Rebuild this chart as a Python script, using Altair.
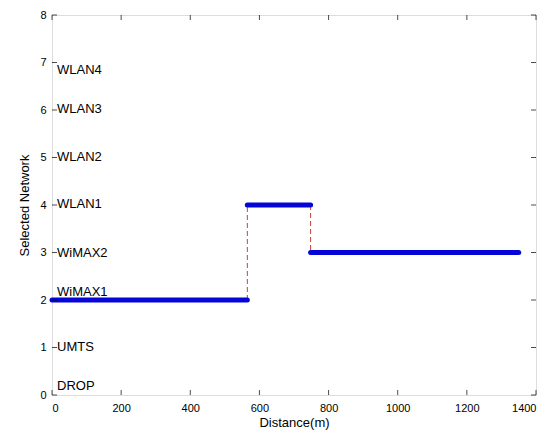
import altair as alt
import pandas as pd

# ---- data ----
seg_id = [1, 1, 2, 2, 3, 3]
seg_x = [0, 565, 565, 748, 748, 1350]
seg_y = [2, 2, 4, 4, 3, 3]

jump_id = [1, 1, 2, 2]
jump_x = [565, 565, 748, 748]
jump_y = [2, 4, 4, 3]

net_names = ["DROP", "UMTS", "WiMAX1", "WiMAX2", "WLAN1", "WLAN2", "WLAN3", "WLAN4"]
net_y = [0.2, 1.02, 2.17, 3.0, 4.02, 5.02, 6.02, 6.85]

x_ticks = [0, 200, 400, 600, 800, 1000, 1200, 1400]
y_ticks = [0, 1, 2, 3, 4, 5, 6, 7, 8]

FONT = "Liberation Sans"

seg_df = pd.DataFrame({"seg": seg_id, "x": seg_x, "y": seg_y})
jump_df = pd.DataFrame({"seg": jump_id, "x": jump_x, "y": jump_y})
lab_df = pd.DataFrame({"name": net_names, "x": [0] * len(net_names), "y": net_y})
xt_df = pd.DataFrame({"t": x_ticks})
yt_df = pd.DataFrame({"t": y_ticks})

xscale = alt.Scale(domain=[0, 1400], nice=False, zero=False)
yscale = alt.Scale(domain=[0, 8], nice=False, zero=False)

xaxis = alt.Axis(values=x_ticks, format="d", ticks=False, domain=False, grid=False,
                 labelFont=FONT, labelFontSize=11, labelColor="black",
                 labelPadding=7, title="Distance(m)", titleFont=FONT,
                 titleFontSize=13, titleFontWeight="normal", titleColor="black",
                 titlePadding=3)
yaxis = alt.Axis(values=y_ticks, format="d", ticks=False, domain=False, grid=False,
                 labelFont=FONT, labelFontSize=11, labelColor="black",
                 labelPadding=6, title="Selected Network", titleFont=FONT,
                 titleFontSize=13, titleFontWeight="normal", titleColor="black",
                 titlePadding=8)

jumps = alt.Chart(jump_df).mark_line(color="#c8403a", strokeWidth=1,
                                     strokeDash=[5, 3]).encode(
    x=alt.X("x:Q", scale=xscale, axis=xaxis),
    y=alt.Y("y:Q", scale=yscale, axis=yaxis),
    detail="seg:N",
)

segs = alt.Chart(seg_df).mark_line(color="#0505d8", strokeWidth=5,
                                   strokeCap="round").encode(
    x=alt.X("x:Q", scale=xscale),
    y=alt.Y("y:Q", scale=yscale),
    detail="seg:N",
)

labels = alt.Chart(lab_df).mark_text(align="left", baseline="middle", dx=5,
                                     font=FONT, fontSize=13, color="black").encode(
    x=alt.X("x:Q", scale=xscale),
    y=alt.Y("y:Q", scale=yscale),
    text="name:N",
)

tick_style = dict(color="black", thickness=1, size=5)
bottom_ticks = alt.Chart(xt_df).mark_tick(orient="vertical", yOffset=-2.5, **tick_style).encode(
    x=alt.X("t:Q", scale=xscale), y=alt.datum(0))
top_ticks = alt.Chart(xt_df).mark_tick(orient="vertical", yOffset=2.5, **tick_style).encode(
    x=alt.X("t:Q", scale=xscale), y=alt.datum(8))
left_ticks = alt.Chart(yt_df).mark_tick(orient="horizontal", xOffset=2.5, **tick_style).encode(
    y=alt.Y("t:Q", scale=yscale), x=alt.datum(0))
right_ticks = alt.Chart(yt_df).mark_tick(orient="horizontal", xOffset=-2.5, **tick_style).encode(
    y=alt.Y("t:Q", scale=yscale), x=alt.datum(1400))

chart = alt.layer(jumps, segs, labels, bottom_ticks, top_ticks, left_ticks, right_ticks).properties(
    width=484, height=380,
    autosize=alt.AutoSizeParams(type="none"),
    padding={"left": 44, "top": 7, "right": 14, "bottom": 38},
).configure_view(stroke="black", strokeWidth=1).configure(background="white")

chart.save("out.html", embed_options={"renderer": "svg", "actions": False})
